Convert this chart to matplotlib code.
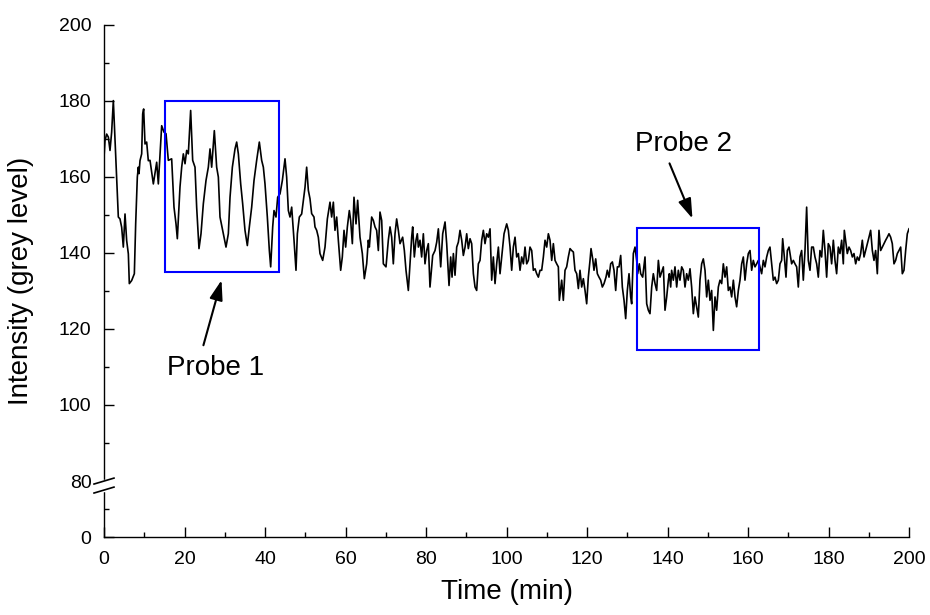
import numpy as np
import matplotlib.pyplot as plt
from matplotlib.patches import Rectangle

plt.rcParams['font.family'] = ['Liberation Sans', 'DejaVu Sans']
plt.rcParams['font.size'] = 14

# time (min) and intensity
time = [0.0, 0.25, 0.66, 1.08, 1.49, 1.9, 2.32, 3.56, 3.97, 4.39, 4.8, 5.22, 5.63, 6.05, 6.29,
        6.87, 7.54, 7.87, 8.28, 8.53, 8.7, 8.94, 9.36, 9.61, 9.85, 10.19, 10.6, 11.01,
        11.43, 12.26, 13.09, 13.5, 14.33, 14.91, 15.41, 15.98, 16.81, 17.39, 17.89, 18.22,
        18.88, 19.3, 19.71, 20.13, 20.54, 20.95, 21.53, 22.03, 22.61, 23.02, 23.6, 24.1,
        24.68, 25.34, 25.92, 26.34, 26.75, 27.41, 27.99, 28.41, 28.82, 29.65, 30.31, 30.89,
        31.31, 31.89, 32.55, 32.96, 33.38, 33.96, 34.45, 35.03, 35.61, 36.11, 36.69, 37.27,
        37.93, 38.59, 39.17, 39.59, 40.0, 40.58, 41.08, 41.41, 41.91, 42.24, 42.73, 43.15,
        43.73, 44.31, 44.97, 45.38, 45.8, 46.21, 46.63, 47.21, 47.7, 48.04, 48.53, 49.11,
        49.52, 49.94, 50.35, 50.77,
        51.18, 51.59, 52.17, 52.42, 52.84, 53.25, 53.66, 54.33, 54.91, 55.49, 56.15, 56.56,
        56.98, 57.39, 57.81, 58.22, 58.8, 59.21, 59.63, 60.04, 60.46, 60.95, 61.28, 61.7,
        62.11, 62.61, 63.02, 63.6, 64.18, 64.68, 65.26, 65.67, 65.92, 66.5, 66.92, 67.33,
        67.74, 68.16, 68.57, 68.99, 69.4, 70.06, 70.64, 71.06, 71.47, 71.88, 72.3, 72.71,
        73.13, 73.54, 74.2, 74.62, 75.03, 75.61, 76.03, 76.44, 76.69, 77.1, 77.52, 77.85,
        78.1, 78.51, 78.92, 79.34, 79.75, 80.17, 80.58, 80.99,
        81.66, 82.24, 82.66, 83.07, 83.65, 84.15, 84.73, 85.14, 85.72, 86.13, 86.47, 86.8,
        87.21, 87.63, 88.04, 88.45, 88.87, 89.28, 89.7, 90.11, 90.52, 90.94, 91.35, 91.77,
        92.18, 92.59, 93.01, 93.42, 93.84, 94.25, 94.66, 95.08, 95.49, 95.91, 96.32, 96.73,
        97.15, 97.56, 97.98, 98.39, 98.81, 99.39, 100.05, 100.46, 100.88, 101.29, 101.7,
        102.12, 102.53, 102.95, 103.36, 103.77, 104.19, 104.6, 105.02, 105.43, 105.84,
        106.26, 106.67, 107.09, 107.5, 107.92, 108.33, 108.74, 109.16, 109.57, 109.99,
        110.4, 110.81, 111.23, 111.64, 112.06, 112.47, 112.88, 113.13,
        113.71, 114.12, 114.54, 114.95, 115.36, 115.78, 116.19, 116.61, 117.02, 117.44,
        117.85, 118.26, 118.68, 119.09, 119.51, 119.92, 120.33, 120.75, 121.0, 121.41,
        121.74, 122.16, 122.57, 122.98, 123.4, 123.81, 124.23, 124.72, 125.05, 125.47,
        125.88, 126.3, 126.71, 127.13, 127.54, 127.95, 128.37, 128.78, 129.2, 129.61,
        130.02, 130.44, 130.85, 131.1, 131.51, 131.93, 132.34, 132.59, 133.0, 133.34,
        133.83, 134.41, 134.83, 135.24, 135.65, 136.07, 136.48, 136.9, 137.31, 137.73,
        138.14, 138.55, 138.97, 139.38, 139.8, 140.21, 140.46, 140.79,
        141.03, 141.45, 141.86, 142.28, 142.69, 143.1, 143.52, 143.93, 144.35, 144.76,
        145.17, 145.59, 146.0, 146.42, 146.83, 147.25, 147.66, 148.07, 148.49, 148.9,
        149.32, 149.73, 150.14, 150.56, 150.97, 151.39, 151.8, 152.21, 152.63, 153.04,
        153.46, 153.87, 154.29, 154.7, 155.11, 155.53, 155.94, 156.36, 156.77, 157.18,
        157.6, 158.01, 158.43, 158.84, 159.25, 159.67, 160.08, 160.5, 160.91, 161.32,
        161.74, 162.15, 162.57, 162.98, 163.39, 163.81, 164.22, 164.64, 165.05, 165.46,
        165.88, 166.29, 166.71, 167.12, 167.54, 167.95, 168.36, 168.61, 169.03, 169.44,
        169.77, 170.19,
        170.84, 171.26, 171.67, 172.09, 172.5, 172.91, 173.33, 173.74, 174.16, 174.57,
        174.98, 175.4, 175.81, 176.23, 176.64, 177.06, 177.47, 177.88, 178.3, 178.71,
        179.13, 179.54, 179.95, 180.37, 180.78, 181.2, 181.61, 182.02, 182.44, 182.85,
        183.27, 183.68, 183.93, 184.34, 184.67, 185.09, 185.5, 185.92, 186.33, 186.75,
        187.16, 187.57, 187.99, 188.4, 188.82, 189.23, 189.64, 190.06, 190.47, 190.89,
        191.3, 191.71, 192.13, 192.54, 192.96, 193.37, 193.78, 194.2, 194.61, 195.03,
        195.44, 195.85, 196.27, 196.68, 197.1, 197.51, 197.93, 198.34, 198.75, 199.17,
        199.58, 200.0]

intensity = [165.1, 169.5, 171.2, 170.4, 166.9, 171.7, 180.0, 149.4, 148.9, 146.7, 141.5, 150.2, 143.2, 139.7, 131.9,
             132.7, 134.5, 147.6, 159.9, 162.5, 160.8, 164.2, 166.0, 176.5, 177.8, 168.6, 169.1, 164.2,
             164.3, 158.1, 163.8, 158.1, 173.4, 171.7, 171.3, 164.3, 164.7, 152.0, 147.6, 143.7,
             157.3, 162.5, 166.0, 163.4, 166.9, 166.0, 177.4, 164.3, 162.5, 152.0, 141.1, 145.0,
             152.9, 159.0, 162.5, 167.3, 162.5, 172.1, 162.5, 159.9, 149.4, 145.0, 141.5, 145.0,
             154.6, 162.5, 167.3, 169.1, 166.0, 158.1, 152.9, 145.9, 141.9, 146.8, 152.0, 159.0,
             164.3, 169.1, 164.3, 162.5, 158.1, 149.4, 140.6, 136.3, 146.8, 151.1, 149.4, 154.6,
             155.5, 159.0, 164.7, 159.9, 151.1, 149.4, 152.0, 143.3, 135.4, 145.0, 149.4, 150.2,
             153.7, 157.2, 162.5, 156.4,
             154.2, 150.3, 149.4, 146.8, 145.9, 144.1, 139.8, 138.0, 141.5, 148.9, 153.3, 149.4,
             153.3, 145.9, 149.4, 143.3, 135.4, 138.9, 145.9, 141.5, 146.8, 151.1, 148.5, 142.4,
             154.6, 147.6, 153.8, 144.1, 139.8, 133.2, 137.1, 143.3, 141.5, 149.4, 148.5, 146.8,
             145.9, 140.6, 150.7, 148.5, 137.1, 136.3, 143.3, 146.8, 144.1, 137.1, 145.0, 148.9,
             145.9, 142.4, 144.1, 140.6, 135.4, 130.1, 137.1, 144.1, 146.8, 138.9, 143.3, 145.0,
             141.5, 143.3, 138.9, 145.0, 137.1, 140.6, 142.4, 131.0,
             139.3, 140.6, 142.8, 146.3, 136.3, 145.0, 148.1, 142.4, 131.4, 138.9, 133.6, 139.8,
             134.1, 141.5, 142.8, 145.9, 143.3, 139.3, 141.5, 145.0, 141.1, 143.7, 142.4, 134.5,
             131.0, 130.1, 137.1, 138.0, 143.3, 145.9, 142.4, 145.0, 144.1, 146.3, 132.8, 138.9,
             131.9, 137.1, 141.5, 134.5, 138.9, 145.0, 147.6, 145.9, 141.5, 135.4, 141.5,
             144.1, 138.9, 139.8, 135.4, 138.9, 137.1, 141.5, 137.1, 138.0, 141.5,
             140.6, 135.4, 135.8, 134.5, 133.6, 135.4, 135.4, 138.9, 143.3, 141.5,
             145.0, 143.3, 138.0, 142.4, 138.0, 137.1, 136.3, 127.5,
             132.8, 127.5, 135.4, 136.3, 138.9, 141.1, 140.6, 140.2, 135.4, 134.5,
             130.6, 135.4, 131.0, 133.2, 130.1, 126.6, 133.6, 138.0, 141.1, 138.4,
             135.4, 138.4, 134.5, 133.6, 132.8, 131.0, 131.9, 133.6, 135.4, 133.6,
             137.1, 137.6, 135.4, 130.1, 136.3, 136.3, 139.3, 131.0, 127.5, 122.7,
             130.1, 134.5, 128.4, 126.6, 139.8, 141.5, 138.0, 134.5, 137.1, 134.5,
             133.6, 138.9, 126.6, 124.9, 124.0, 131.0, 134.5, 131.9, 130.1, 138.0,
             133.6, 134.9, 136.3, 124.9, 128.4, 132.8, 134.5, 131.0,
             135.4, 132.8, 136.3, 131.0, 135.4, 132.8, 136.3, 135.4, 131.0, 134.5,
             132.8, 135.8, 131.0, 124.0, 128.4, 125.8, 123.1, 132.8, 137.1, 138.4,
             135.4, 128.4, 132.8, 127.5, 130.1, 119.6, 128.4, 124.9, 131.0, 132.8,
             131.9, 137.1, 133.6, 136.3, 130.1, 131.0, 128.4, 132.8, 128.4, 125.8,
             130.1, 132.8, 137.1, 138.9, 132.8, 137.1, 139.8, 140.6, 135.4, 138.0,
             136.3, 137.1, 138.0, 136.3, 134.5, 138.0, 136.3, 138.9, 140.6, 141.5,
             137.1, 132.8, 133.6, 131.9, 132.8, 137.1, 138.0, 143.7, 138.9, 133.6,
             140.6, 141.5,
             137.1, 138.0, 137.1, 136.3, 131.0, 138.9, 140.6, 132.8, 140.6, 152.0,
             138.0, 135.4, 141.5, 141.5, 138.9, 137.1, 133.6, 140.6, 138.9, 145.9,
             140.6, 133.6, 142.4, 141.5, 137.1, 143.3, 138.0, 134.5, 141.5, 139.8,
             143.3, 137.1, 145.9, 142.4, 139.8, 141.5, 140.6, 138.9, 139.8, 137.1,
             138.9, 138.0, 139.8, 143.3, 138.9, 140.6, 142.4, 144.1, 145.9, 140.6,
             138.0, 140.6, 134.5, 145.9, 140.6, 141.5, 142.4, 143.3, 144.1, 145.0,
             144.1, 142.4, 137.1, 138.0, 139.8, 140.6, 141.5, 134.5, 135.4, 140.6,
             145.0, 146.3]

# probe regions: (t0, t1, low, high)
probe1 = (15.2, 43.5, 135, 180)
probe2 = (132.4, 162.7, 114.5, 146.5)

# label text positions and arrow (tail, tip)
probe1_text = (27.6, 109.8)
probe1_arrow = ((24.7, 115.7), (29.2, 132.8))
probe2_text = (143.9, 168.7)
probe2_arrow = ((140.5, 163.5), (146.2, 149.0))

# broken axis: 0-80 squeezed into a short segment below the break
K = 14.7 / 80.0


def fwd(y):
    y = np.asarray(y, dtype=float)
    return np.where(y >= 80, y, 80 - (80 - y) * K)


def inv(y):
    y = np.asarray(y, dtype=float)
    return np.where(y >= 80, y, 80 - (80 - y) / K)


fig = plt.figure(figsize=(9.3, 6.15), dpi=100)
ax = fig.add_axes([104 / 930, 1 - 537 / 615, 805 / 930, 512.5 / 615])
ax.set_yscale('function', functions=(fwd, inv))

ax.plot(time, intensity, '-', c='k', lw=1.2)

for t0, t1, lo, hi in (probe1, probe2):
    ax.add_patch(Rectangle((t0, lo), t1 - t0, hi - lo, fill=False, ec='#0000ff', lw=1.5, zorder=3))

arrow_kw = dict(arrowstyle='-|>,head_length=0.6,head_width=0.2', color='k', lw=1.5,
                mutation_scale=20, shrinkA=0, shrinkB=0)
ax.text(*probe1_text, 'Probe 1', ha='center', va='center', fontsize=20)
ax.annotate('', xy=probe1_arrow[1], xytext=probe1_arrow[0], arrowprops=arrow_kw)
ax.text(*probe2_text, 'Probe 2', ha='center', va='center', fontsize=20)
ax.annotate('', xy=probe2_arrow[1], xytext=probe2_arrow[0], arrowprops=arrow_kw)

ax.set_xlim(0, 200)
ax.set_ylim(0, 200)
ax.set_xticks(np.arange(0, 201, 20))
ax.set_xticks(np.arange(10, 200, 20), minor=True)
ax.set_yticks([0, 80, 100, 120, 140, 160, 180, 200])
ax.set_yticks([40, 90, 110, 130, 150, 170, 190], minor=True)
ax.tick_params(which='both', direction='in', width=1.0, labelsize=14)
ax.tick_params(which='major', length=7)
ax.tick_params(which='minor', length=3.5)
ax.tick_params(axis='y', pad=9)
ax.tick_params(axis='x', pad=10)
ax.yaxis.get_major_ticks()[1].tick1line.set_visible(False)

for s in ['top', 'right']:
    ax.spines[s].set_visible(False)
for s in ['left', 'bottom']:
    ax.spines[s].set_linewidth(1.0)

# break marks on the y axis
yb = 14.7 / 134.7
gap = 9 / 512.5
ax.plot([0, 0], [yb - gap, yb], transform=ax.transAxes, c='w', lw=2.5, clip_on=False, zorder=5)
for off in (0, -gap):
    ax.plot([-0.0124, 0.0124], [yb + off - 0.0058, yb + off + 0.0058], transform=ax.transAxes,
            c='k', lw=1.2, clip_on=False, zorder=6)

ax.set_xlabel('Time (min)', fontsize=20)
ax.set_ylabel('Intensity (grey level)', fontsize=20)
ax.xaxis.set_label_coords(0.5, -0.082)
ax.yaxis.set_label_coords(-0.087, 0.5)

plt.savefig('out.png', dpi=100)
